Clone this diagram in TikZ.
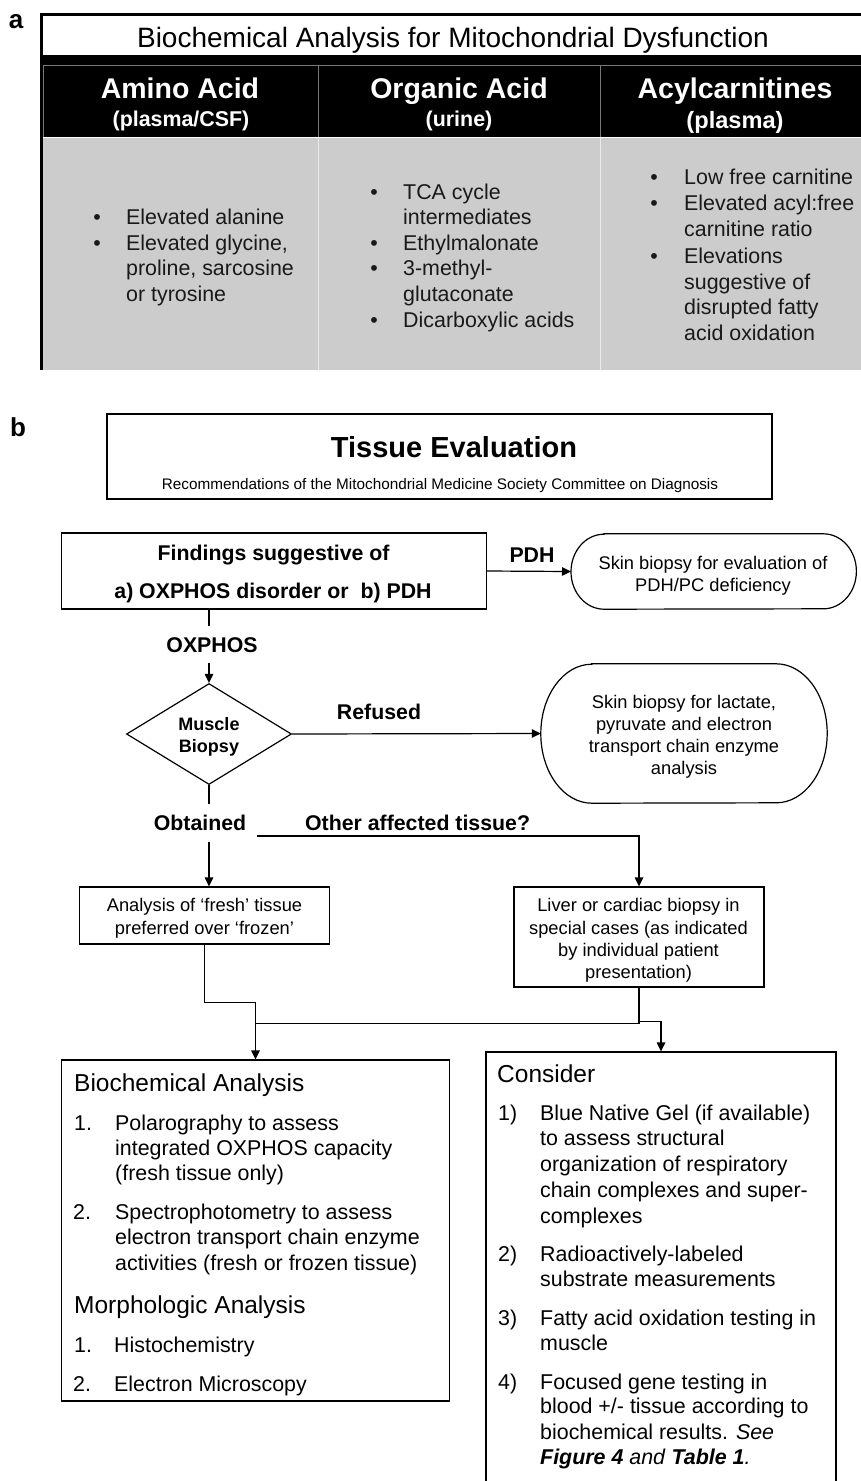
\documentclass[tikz,border=0pt]{standalone}
\usepackage{fontspec}
\setmainfont{Liberation Sans}
\usetikzlibrary{shapes.geometric,arrows.meta,calc}
\definecolor{cellgray}{RGB}{204,204,204}
\definecolor{hdrline}{RGB}{120,120,120}
\begin{document}
\begin{tikzpicture}[x=1pt,y=-1pt,
  rg/.style 2 args={inner sep=0pt,text depth=0pt,text height=#2,font=\fontsize{#1}{#1}\selectfont},
  bd/.style 2 args={inner sep=0pt,text depth=0pt,text height=#2,font=\bfseries\fontsize{#1}{#1}\selectfont},
  abody/.style={rg={21.4}{15.3pt},anchor=west,text=black!90},
  abul/.style={rg={21.4}{15.3pt},text=black!90},
  ahead/.style={bd={28.5}{20.4pt},text=white},
  asub/.style={bd={21.4}{15.3pt},text=white},
  small/.style={rg={18.3}{13.1pt}},
  lbl/.style={bd={21.3}{15.3pt}},
  boxhead/.style={rg={24.5}{17.5pt},anchor=west},
  boxtxt/.style={rg={21.4}{15.3pt},anchor=west},
  panel/.style={bd={26}{18.6pt}},
  ln/.style={line width=1.2pt,draw=black},
  arr/.style={ln,-{Triangle[length=9pt,width=8.5pt]}},
  box/.style={draw=black,line width=1.2pt,inner sep=0pt},
  shell/.style={inner sep=0pt,draw=none}
]
\useasboundingbox (0,0) rectangle (861,1481);
\fill[white] (0,0) rectangle (861,1481);

% ---------------- panel a ----------------
\node[panel,anchor=base] (pa) at (16,28.8) {a};
\fill[white] (41,14) rectangle (861,55);
\node[rg={28}{20pt}] (atitle) at (453,37) {Biochemical Analysis for Mitochondrial Dysfunction};
\fill[black] (41,55) rectangle (861,137);
\draw[hdrline,line width=0.8pt] (43.5,65) -- (861,65);
\draw[hdrline,line width=0.8pt] (43.5,65) -- (43.5,137);
\draw[hdrline,line width=0.8pt] (318,65) -- (318,137);
\draw[hdrline,line width=0.8pt] (600,65) -- (600,137);
\fill[cellgray] (41,138) rectangle (861,370);
\draw[white,line width=1.5pt] (41,137.5) -- (861,137.5);
\draw[white!92!black,line width=1pt] (318,138) -- (318,370);
\draw[white!92!black,line width=1pt] (600,138) -- (600,370);
\draw[black,line width=3pt] (41.5,12.5) -- (41.5,370);
\draw[black,line width=3pt] (40,14) -- (861,14);

\node[ahead] (h1) at (180,88) {Amino Acid};
\node[asub] (h1s) at (181,119) {(plasma/CSF)};
\node[ahead] (h2) at (459,88) {Organic Acid};
\node[asub] (h2s) at (459,119) {(urine)};
\node[ahead] (h3) at (735,88) {Acylcarnitines};
\node[bd={23.6}{16.9pt},text=white] (h3s) at (735,120) {(plasma)};

\node[abul] (b11) at (97,217) {•};
\node[abul] (b12) at (97,243) {•};
\node[abody] (t11) at (126,217) {Elevated alanine};
\node[abody] (t12) at (126,243) {Elevated glycine,};
\node[abody] (t13) at (126,268) {proline, sarcosine};
\node[abody] (t14) at (126,294) {or tyrosine};

\node[abul] (b21) at (374,192) {•};
\node[abul] (b22) at (374,243) {•};
\node[abul] (b23) at (374,268) {•};
\node[abul] (b24) at (374,320) {•};
\node[abody] (t21) at (403,192) {TCA cycle};
\node[abody] (t22) at (403,217) {intermediates};
\node[abody] (t23) at (403,243) {Ethylmalonate};
\node[abody] (t24) at (403,268) {3-methyl-};
\node[abody] (t25) at (403,294) {glutaconate};
\node[abody] (t26) at (403,320) {Dicarboxylic acids};

\node[abul] (b31) at (654,177) {•};
\node[abul] (b32) at (654,203) {•};
\node[abul] (b33) at (654,256) {•};
\node[abody] (t31) at (684,177) {Low free carnitine};
\node[abody] (t32) at (684,203) {Elevated acyl:free};
\node[abody] (t33) at (684,229) {carnitine ratio};
\node[abody] (t34) at (684,256) {Elevations};
\node[abody] (t35) at (684,282) {suggestive of};
\node[abody] (t36) at (684,307) {disrupted fatty};
\node[abody] (t37) at (684,333) {acid oxidation};

% ---------------- panel b ----------------
\node[panel,anchor=base] (pb) at (18,436.5) {b};

\node[box,minimum width=665pt,minimum height=85pt] (tissue) at (439.5,456.5) {};
\node[bd={29}{20.8pt}] (tissueT) at (454,447) {Tissue Evaluation};
\node[rg={15.3}{11pt}] (tissueR) at (440,484) {Recommendations of the Mitochondrial Medicine Society Committee on Diagnosis};

\node[box,minimum width=425pt,minimum height=76pt] (findings) at (273.8,571) {};
\node[lbl] (f1) at (273.6,553) {Findings suggestive of};
\node[lbl] (f2) at (273,591) {a) OXPHOS disorder or\ \ b) PDH};

\node[shell,minimum width=285pt,minimum height=75pt] (pdh) at (713.7,571.5) {};
\draw[ln] ($(pdh.north west)+(33,0)$) -- ($(pdh.north east)+(-33,0)$)
  arc[start angle=90,end angle=-90,x radius=33pt,y radius=37.5pt]
  -- ($(pdh.south west)+(33,0)$)
  arc[start angle=270,end angle=90,x radius=33pt,y radius=37.5pt] -- cycle;
\node[small] (p1) at (713,563) {Skin biopsy for evaluation of};
\node[small] (p2) at (713,585) {PDH/PC deficiency};

\node[diamond,box,minimum width=165pt,minimum height=101pt] (dia) at (209,734) {};
\node[bd={18}{12.9pt}] (d1) at (209,724) {Muscle};
\node[bd={18}{12.9pt}] (d2) at (209,746) {Biopsy};

\node[shell,minimum width=286pt,minimum height=139pt] (skin) at (684,733.5) {};
\draw[ln] ($(skin.north west)+(51,0)$) -- ($(skin.north east)+(-51,0)$)
  arc[start angle=90,end angle=-90,x radius=51pt,y radius=69.5pt]
  -- ($(skin.south west)+(51,0)$)
  arc[start angle=270,end angle=90,x radius=51pt,y radius=69.5pt] -- cycle;
\node[small] (s1) at (684,702) {Skin biopsy for lactate,};
\node[small] (s2) at (684,724) {pyruvate and electron};
\node[small] (s3) at (684,746) {transport chain enzyme};
\node[small] (s4) at (684,768) {analysis};

\node[box,minimum width=250pt,minimum height=57pt] (analysis) at (204.7,915.5) {};
\node[small] (an1) at (204.5,905) {Analysis of ‘fresh’ tissue};
\node[small] (an2) at (204.5,928) {preferred over ‘frozen’};

\node[box,minimum width=250pt,minimum height=100pt] (liver) at (639,937) {};
\node[small] (l1) at (638.5,905) {Liver or cardiac biopsy in};
\node[small] (l2) at (638.5,928) {special cases (as indicated};
\node[small] (l3) at (638.5,950) {by individual patient};
\node[small] (l4) at (638.5,972) {presentation)};

\node[box,minimum width=388pt,minimum height=341pt] (biochem) at (255.5,1230.5) {};
\node[boxhead] (bh1) at (74,1083) {Biochemical Analysis};
\node[boxtxt] (bn1) at (74,1123) {1.};
\node[boxtxt] (bt1) at (115,1123) {Polarography to assess};
\node[boxtxt] (bt2) at (115,1148) {integrated OXPHOS capacity};
\node[boxtxt] (bt3) at (115,1173) {(fresh tissue only)};
\node[boxtxt] (bn2) at (73,1212) {2.};
\node[boxtxt] (bt4) at (115,1212) {Spectrophotometry to assess};
\node[boxtxt] (bt5) at (115,1237) {electron transport chain enzyme};
\node[boxtxt] (bt6) at (115,1263) {activities (fresh or frozen tissue)};
\node[boxhead] (bh2) at (74,1305) {Morphologic Analysis};
\node[boxtxt] (bn3) at (74,1345) {1.};
\node[boxtxt] (bt7) at (114,1345) {Histochemistry};
\node[boxtxt] (bn4) at (73,1384) {2.};
\node[boxtxt] (bt8) at (114,1384) {Electron Microscopy};

\node[box,minimum width=350pt,minimum height=438pt] (consider) at (661,1271) {};
\node[boxhead] (ch) at (497,1074) {Consider};
\node[boxtxt] (cn1) at (498,1113) {1)};
\node[boxtxt] (c1) at (540,1113) {Blue Native Gel (if available)};
\node[boxtxt] (c2) at (540,1138) {to assess structural};
\node[boxtxt] (c3) at (540,1164) {organization of respiratory};
\node[boxtxt] (c4) at (540,1190) {chain complexes and super-};
\node[boxtxt] (c5) at (540,1216) {complexes};
\node[boxtxt] (cn2) at (498,1254) {2)};
\node[boxtxt] (c6) at (540,1254) {Radioactively-labeled};
\node[boxtxt] (c7) at (540,1279) {substrate measurements};
\node[boxtxt] (cn3) at (498,1318) {3)};
\node[boxtxt] (c8) at (540,1318) {Fatty acid oxidation testing in};
\node[boxtxt] (c9) at (540,1343) {muscle};
\node[boxtxt] (cn4) at (498,1382) {4)};
\node[boxtxt] (c10) at (540,1382) {Focused gene testing in};
\node[boxtxt] (c11) at (540,1406) {blood +/- tissue according to};
\node[boxtxt] (c12) at (540,1432) {biochemical results. \textit{See}};
\node[boxtxt] (c13) at (540,1457) {\textbf{\textit{Figure 4}} \textit{and} \textbf{\textit{Table 1}}\textit{.}};

% labels on connectors
\node[lbl] (pdhl) at (532,555) {PDH};
\node[lbl] (oxl) at (212,645) {OXPHOS};
\node[lbl] (refl) at (379,712) {Refused};
\node[lbl] (obl) at (200,823) {Obtained};
\node[lbl] (othl) at (417.6,823) {Other affected tissue?};

% connectors
\draw[ln] (findings.south -| dia.north) -- ++(0,16);
\draw[arr] ($(dia.north)+(0,-20)$) -- (dia.north);
\draw[arr] (findings.east) -- (pdh.west);
\draw[arr] (dia.east) -- (skin.west);
\draw[ln] (dia.south) -- ++(0,19);
\draw[arr] ($(dia.south)+(0,57)$) -- (dia.south |- analysis.north);
\coordinate (oth) at (256.6,836);
\draw[arr] (oth) -| (liver.north);
\draw[arr] (analysis.south) -- ++(0,58) -| (biochem.north);
\draw[ln] (liver.south) |- ($(biochem.north)+(0,-36)$);
\draw[arr] ($(liver.south)+(0,34)$) -| (consider.north);
\end{tikzpicture}
\end{document}
